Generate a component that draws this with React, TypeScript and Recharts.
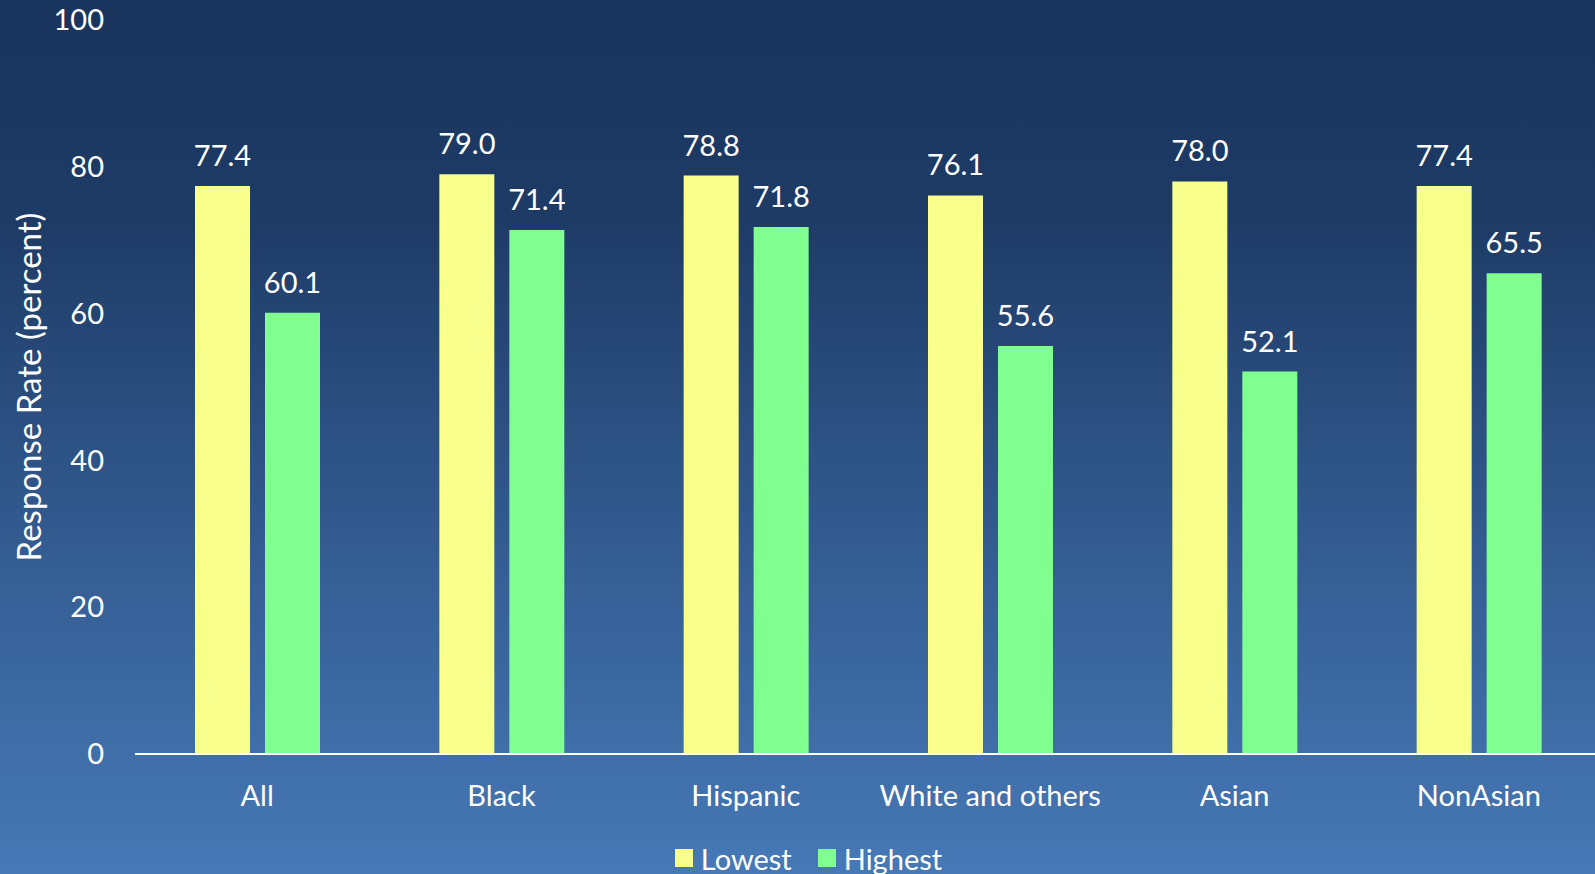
import React from 'react';
import {
    BarChart,
    Bar,
    XAxis,
    YAxis,
    Legend,
    LabelList,
} from 'recharts';

const CATEGORIES = ['All', 'Black', 'Hispanic', 'White and others', 'Asian', 'NonAsian'];
const LOWEST = [77.4, 79.0, 78.8, 76.1, 78.0, 77.4];
const HIGHEST = [60.1, 71.4, 71.8, 55.6, 52.1, 65.5];
const Y_TICKS = [0, 20, 40, 60, 80, 100];

const COLORS = {
    lowest: '#F8FF8A',
    highest: '#80FF90',
};

const FONT = 'Lato, "Open Sans", sans-serif';
const FS = 29;

const data = CATEGORIES.map((name, i) => ({
    name,
    lowest: LOWEST[i],
    highest: HIGHEST[i],
}));

const LegendContent = () => (
    <div style={{
        height: 40, boxSizing: 'border-box', paddingTop: 8, paddingLeft: 16,
        display: 'flex', justifyContent: 'center', alignItems: 'center',
        fontFamily: FONT, fontSize: FS, color: '#fff',
    }}>
        {[
            { label: 'Lowest', color: COLORS.lowest },
            { label: 'Highest', color: COLORS.highest },
        ].map(({ label, color }) => (
            <span key={label} style={{ display: 'flex', alignItems: 'center', margin: '0 13px' }}>
                <span style={{ width: 18, height: 18, background: color, marginRight: 8, display: 'inline-block' }} />
                {label}
            </span>
        ))}
    </div>
);

const AxisTitle = ({ viewBox }: any) => {
    const cy = viewBox.y + viewBox.height / 2;
    return (
        <text x={28} y={cy} transform={`rotate(-90, 28, ${cy})`} textAnchor="middle" dominantBaseline="central"
            fill="#fff" style={{ fontSize: 33, fontFamily: FONT }}>
            Response Rate (percent)
        </text>
    );
};

export default function App() {
    return (
        <div style={{
            width: 1595,
            height: 874,
            overflow: 'hidden',
            background: 'linear-gradient(to bottom, #19355d 0%, #1e3b66 25%, #355e94 65%, #4679b6 100%)',
        }}>
            <style>{'body { margin: 0; }'}</style>
            <BarChart
                width={1595}
                height={874}
                data={data}
                margin={{ top: 20, right: -6, bottom: 0, left: 0 }}
                barSize={55}
                barGap={15}
            >
                <XAxis
                    dataKey="name"
                    height={80}
                    axisLine={{ stroke: '#fff', strokeWidth: 2 }}
                    tickLine={false}
                    tickSize={0}
                    tickMargin={31}
                    tick={{ fill: '#fff', fontSize: FS, fontFamily: FONT }}
                    interval={0}
                />
                <YAxis
                    width={135}
                    domain={[0, 100]}
                    ticks={Y_TICKS}
                    axisLine={false}
                    tickLine={false}
                    tickSize={0}
                    tickMargin={31}
                    tick={{ fill: '#fff', fontSize: FS, fontFamily: FONT }}
                    label={{ content: AxisTitle }}
                />
                <Legend verticalAlign="bottom" content={<LegendContent />} />
                <Bar dataKey="lowest" name="Lowest" fill={COLORS.lowest} isAnimationActive={false}>
                    <LabelList dataKey="lowest" position="top" offset={20} fill="#fff"
                        formatter={(v: any) => Number(v).toFixed(1)}
                        style={{ fontSize: FS, fontFamily: FONT }} />
                </Bar>
                <Bar dataKey="highest" name="Highest" fill={COLORS.highest} isAnimationActive={false}>
                    <LabelList dataKey="highest" position="top" offset={20} fill="#fff"
                        formatter={(v: any) => Number(v).toFixed(1)}
                        style={{ fontSize: FS, fontFamily: FONT }} />
                </Bar>
            </BarChart>
        </div>
    );
}
